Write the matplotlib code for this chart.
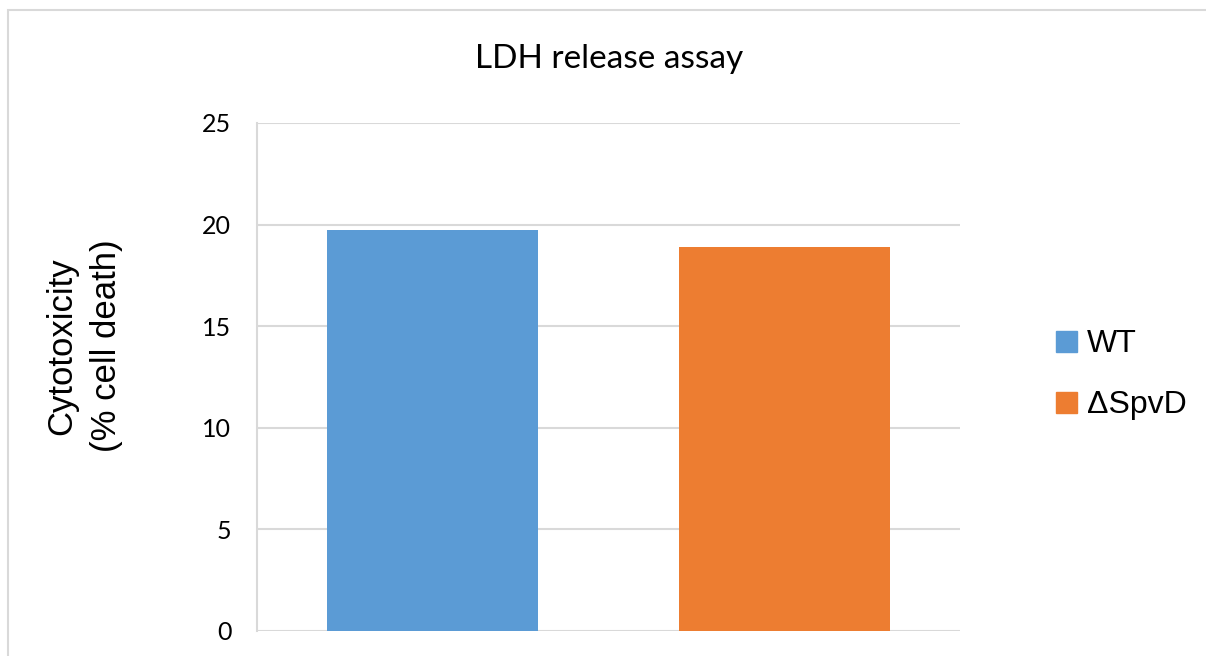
import matplotlib.pyplot as plt
from matplotlib.patches import Rectangle

strains = ["WT", "\u0394SpvD"]
cytotoxicity = [19.73, 18.9]
colors = ["#5B9BD5", "#ED7D31"]
y_ticks = [0, 5, 10, 15, 20, 25]

W, H = 1206, 656
fig = plt.figure(figsize=(W / 100, H / 100), dpi=100)

# outer chart frame (runs off the right/bottom edges)
fig.patches.append(Rectangle((8 / W, -0.1), 1.2, 1 - 10 / H + 0.1,
                             transform=fig.transFigure, fill=False,
                             edgecolor="#d9d9d9", linewidth=1.5))

ax = fig.add_axes([257 / W, (H - 631) / H, (960 - 257) / W, (631 - 123) / H])

x = range(len(strains))
ax.bar(x, cytotoxicity, width=0.6, color=colors, zorder=3)
ax.set_xlim(-0.5, 1.5)
ax.set_ylim(0, 25)
ax.set_yticks(y_ticks)
ax.set_yticklabels([str(t) for t in y_ticks], fontfamily="Lato", fontsize=18)
ax.set_xticks([])
ax.tick_params(axis="y", length=0, pad=18.5)
ax.grid(axis="y", color="#d9d9d9", linewidth=1.5, zorder=0)
for side in ["top", "right", "bottom"]:
    ax.spines[side].set_visible(False)
ax.spines["left"].set_color("#d9d9d9")
ax.spines["left"].set_linewidth(1.5)

fig.text(609 / W, 1 - 68 / H, "LDH release assay", ha="center", va="baseline",
         fontfamily="Lato", fontsize=24)
fig.text(84 / W, 1 - 346 / H, "Cytotoxicity\n(% cell death)", ha="center",
         va="center", rotation=90, fontfamily="Liberation Sans", fontsize=25,
         linespacing=1.45)

# legend squares and labels
for i, (name, c) in enumerate(zip(strains, colors)):
    y0 = 331 + i * 61
    fig.patches.append(Rectangle((1056 / W, 1 - (y0 + 21) / H), 21 / W, 21 / H,
                                 transform=fig.transFigure, color=c))
    fig.text(1087 / W, 1 - (y0 + 21) / H, name, ha="left", va="baseline",
             fontfamily="Liberation Sans", fontsize=23)

fig.savefig("out.png", dpi=100)
